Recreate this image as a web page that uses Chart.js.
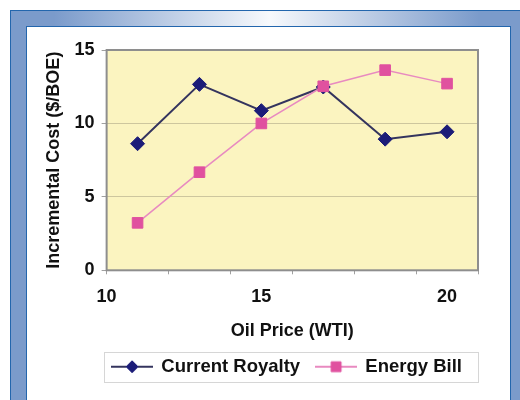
<!DOCTYPE html>
<html>
<head>
<meta charset="utf-8">
<script src="https://cdn.jsdelivr.net/npm/chart.js@4.4.0/dist/chart.umd.min.js"></script>
<style>
  html, body { margin: 0; padding: 0; background: #fff; width: 520px; height: 400px; overflow: hidden; }
  #frame {
    position: absolute; left: 10px; top: 10px; width: 540px; height: 420px;
    box-sizing: border-box; border: 1px solid #2366ad; background: #7b9bcb;
  }
  #band {
    position: absolute; left: 0; top: 0; right: 0; height: 15px;
    background: linear-gradient(to right, #7b9bcb 0%, #7b9bcb 8%, #f7f9fc 48%, #7b9bcb 87%, #7b9bcb 100%);
  }
  #panel {
    position: absolute; left: 26px; top: 26px; width: 485px; height: 400px;
    box-sizing: border-box; border: 1px solid #2366ad; background: #fff;
  }
  #chart { position: absolute; left: 0; top: 0; }
</style>
</head>
<body>
<div id="frame"><div id="band"></div></div>
<div id="panel"><canvas id="chart" width="483" height="373"></canvas></div>
<script>
// Incremental cost per barrel of oil equivalent, six price cases
const currentRoyalty = [8.62, 12.66, 10.87, 12.48, 8.93, 9.43];
const energyBill     = [3.23, 6.68, 10.0, 12.53, 13.63, 12.71];

// Price labels along the bottom axis and the slot each one sits at
const xTickText = ['10', '15', '20'];
const xTickSlot = [0, 2.5, 5.5];

const yTicks = [0, 5, 10, 15];

const FAMILY = "'Liberation Sans', Arial, sans-serif";
const FONT = { family: FAMILY, size: 18, weight: 'bold' };
const LEGEND_FONT = { family: FAMILY, size: 18.5, weight: 'bold' };
const INK = '#111';

const slotCount = currentRoyalty.length;
const toPoints = vals => vals.map((v, i) => ({ x: i + 0.5, y: v }));

// Small line-plus-marker swatches for the legend
function legendSymbol(lineColor, marker, radius, fill, edge) {
  const c = document.createElement('canvas');
  c.width = 42; c.height = 16;
  const g = c.getContext('2d');
  g.strokeStyle = lineColor; g.lineWidth = 2;
  g.beginPath(); g.moveTo(0, 8); g.lineTo(42, 8); g.stroke();
  g.fillStyle = fill; g.strokeStyle = edge; g.lineWidth = 1;
  Chart.helpers.drawPoint(g, { pointStyle: marker, radius: radius, borderWidth: 1, rotation: 0 }, 21, 8);
  return c;
}
const symbols = [
  legendSymbol('#34345e', 'rectRot', 6, '#1b1c78', '#1b1c78'),
  legendSymbol('#e88ac0', 'rect', 7, '#e0519f', '#e0519f')
];

const plotFrame = {
  id: 'plotFrame',
  beforeDraw(chart) {
    const { ctx, chartArea: a } = chart;
    ctx.save();
    ctx.fillStyle = '#fbf4c0';
    ctx.fillRect(a.left, a.top, a.width, a.height);
    ctx.restore();
  },
  beforeDatasetsDraw(chart) {
    const { ctx, chartArea: a } = chart;
    ctx.save();
    ctx.strokeStyle = '#8e8e8e';
    ctx.lineWidth = 2;
    ctx.strokeRect(a.left, a.top, a.width, a.height);
    ctx.restore();
  },
  afterDraw(chart) {
    const { ctx, chartArea: a } = chart;
    const hb = chart.legend.legendHitBoxes;
    if (!hb || !hb.length) return;
    const cy = hb[0].top + hb[0].height / 2;
    ctx.save();
    ctx.strokeStyle = '#d6d6d6';
    ctx.lineWidth = 1;
    ctx.strokeRect(Math.round(a.left - 3) + 0.5, Math.round(cy - 15) + 0.5, Math.round(a.width + 3), 30);
    ctx.restore();
  }
};

new Chart(document.getElementById('chart'), {
  type: 'line',
  data: {
    datasets: [
      {
        label: 'Current Royalty',
        data: toPoints(currentRoyalty),
        order: 1,
        borderColor: '#34345e',
        borderWidth: 2,
        pointStyle: 'rectRot',
        pointRadius: 7,
        pointBackgroundColor: '#1b1c78',
        pointBorderColor: '#1b1c78',
        pointBorderWidth: 1,
        tension: 0,
        clip: false
      },
      {
        label: 'Energy Bill',
        data: toPoints(energyBill),
        order: 0,
        borderColor: '#e88ac0',
        borderWidth: 1.5,
        pointStyle: 'rect',
        pointRadius: 7.5,
        pointBackgroundColor: '#e0519f',
        pointBorderColor: '#e0519f',
        pointBorderWidth: 1,
        tension: 0,
        clip: false
      }
    ]
  },
  options: {
    responsive: false,
    animation: false,
    events: [],
    layout: { padding: { left: 16, right: 32, top: 23, bottom: 14 } },
    scales: {
      x: {
        type: 'linear',
        min: 0,
        max: slotCount,
        afterBuildTicks(scale) {
          const vals = [];
          for (let i = 0; i <= slotCount; i++) vals.push(i);
          xTickSlot.forEach(v => { if (!vals.includes(v)) vals.push(v); });
          vals.sort((p, q) => p - q);
          scale.ticks = vals.map(v => ({ value: v }));
        },
        ticks: {
          autoSkip: false,
          maxRotation: 0,
          padding: 12,
          color: INK,
          font: FONT,
          callback(v) {
            const k = xTickSlot.indexOf(v);
            return k >= 0 ? xTickText[k] : '';
          }
        },
        grid: {
          drawOnChartArea: false,
          tickLength: 4,
          tickColor: ctx => Number.isInteger(ctx.tick.value) ? '#a0a0a0' : 'rgba(0,0,0,0)'
        },
        border: { display: false },
        title: {
          display: true,
          text: 'Oil Price (WTI)',
          color: INK,
          font: FONT,
          padding: { top: 0, bottom: 0 }
        }
      },
      y: {
        min: 0,
        max: 15,
        afterBuildTicks(scale) { scale.ticks = yTicks.map(v => ({ value: v })); },
        ticks: { padding: 7, color: INK, font: FONT },
        grid: {
          color: ctx => (ctx.tick.value > 0 && ctx.tick.value < 15) ? '#cdc69e' : 'rgba(0,0,0,0)',
          tickColor: '#a0a0a0',
          tickLength: 5,
          lineWidth: 1
        },
        border: { display: false },
        title: {
          display: true,
          text: 'Incremental Cost ($/BOE)',
          color: INK,
          font: FONT,
          padding: { top: 0, bottom: 3 }
        }
      }
    },
    plugins: {
      tooltip: { enabled: false },
      legend: {
        position: 'bottom',
        align: 'end',
        labels: {
          usePointStyle: true,
          pointStyleWidth: 40,
          padding: 16,
          color: INK,
          font: LEGEND_FONT,
          generateLabels(chart) {
            return Chart.defaults.plugins.legend.labels.generateLabels(chart)
              .sort((p, q) => p.datasetIndex - q.datasetIndex)
              .map(item => Object.assign(item, { pointStyle: symbols[item.datasetIndex] }));
          }
        }
      }
    }
  },
  plugins: [plotFrame]
});
</script>
</body>
</html>
